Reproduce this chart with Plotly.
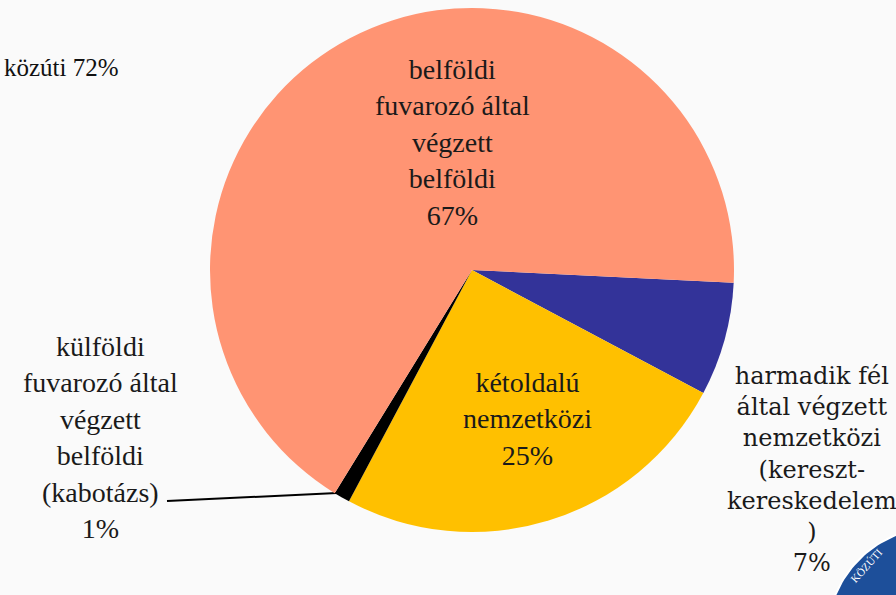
import numpy as np
import plotly.graph_objects as go

W, H = 896, 595

# Data
labels = [
    "harmadik fél<br>által végzett<br>nemzetközi<br>(kereszt-<br>kereskedelem<br>)",
    "kétoldalú<br>nemzetközi",
    "külföldi<br>fuvarozó által<br>végzett<br>belföldi<br>(kabotázs)",
    "belföldi<br>fuvarozó által<br>végzett<br>belföldi",
]
values = [7, 25, 1, 67]
colors = ["#333399", "#FFC000", "#000000", "#FF9473"]
header_text = "közúti 72%"

# label positions in pixels (center x, center y)
label_pos = [(812, 469), (527, 419), (100, 437), (452, 142)]
label_fonts = ["DejaVu Serif", "serif", "Times New Roman", "Liberation Serif"]
label_sizes = [24, 28, 28, 28]


def px(x):
    return x / W


def py(y):
    return 1 - y / H


cx, cy, r = 472, 270, 262

fig = go.Figure()
fig.add_trace(
    go.Pie(
        values=values,
        marker=dict(colors=colors),
        sort=False,
        direction="clockwise",
        rotation=92.8,
        textinfo="none",
        hoverinfo="percent",
        showlegend=False,
        domain=dict(x=[px(cx - r), px(cx + r)], y=[py(cy + r), py(cy - r)]),
    )
)

# leader line for the 1% slice (pixel axes)
fig.add_trace(go.Scatter(x=[167, 337], y=[501, 493], mode="lines",
                         line=dict(color="black", width=2),
                         hoverinfo="skip", showlegend=False))

# logo disc (bottom-right corner)
t = np.linspace(0, 2 * np.pi, 200)
lcx, lcy, lr = 937, 637, 110
fig.add_trace(go.Scatter(x=lcx + lr * np.cos(t), y=lcy + lr * np.sin(t), mode="lines",
                         fill="toself", fillcolor="#1d4f9a",
                         line=dict(color="white", width=2),
                         hoverinfo="skip", showlegend=False))

for lab, val, (x, y), fam, sz in zip(labels, values, label_pos, label_fonts, label_sizes):
    fig.add_annotation(
        x=px(x), y=py(y), xref="paper", yref="paper",
        text=f"{lab}<br>{val}%", showarrow=False,
        xanchor="center", yanchor="middle", align="center",
        font=dict(family=fam, size=sz, color="#1a1a1a"),
    )

fig.add_annotation(
    x=px(2), y=py(67), xref="paper", yref="paper",
    text=header_text, showarrow=False, xanchor="left", yanchor="middle",
    font=dict(family="Georgia", size=25, color="#111111"),
)
fig.add_annotation(
    x=px(866), y=py(566), xref="paper", yref="paper",
    text="KÖZÚTI", showarrow=False, xanchor="center", yanchor="middle",
    textangle=-48,
    font=dict(family="Liberation Serif", size=11, color="white"),
)

fig.update_layout(
    width=W, height=H,
    margin=dict(l=0, r=0, t=0, b=0),
    paper_bgcolor="#fafafa",
    plot_bgcolor="rgba(0,0,0,0)",
    xaxis=dict(range=[0, W], visible=False, domain=[0, 1], fixedrange=True),
    yaxis=dict(range=[H, 0], visible=False, domain=[0, 1], fixedrange=True),
)

post = "document.body.style.margin='0';document.body.style.overflow='hidden';"

fig.write_html("out.html", config={"displayModeBar": False}, post_script=post)
